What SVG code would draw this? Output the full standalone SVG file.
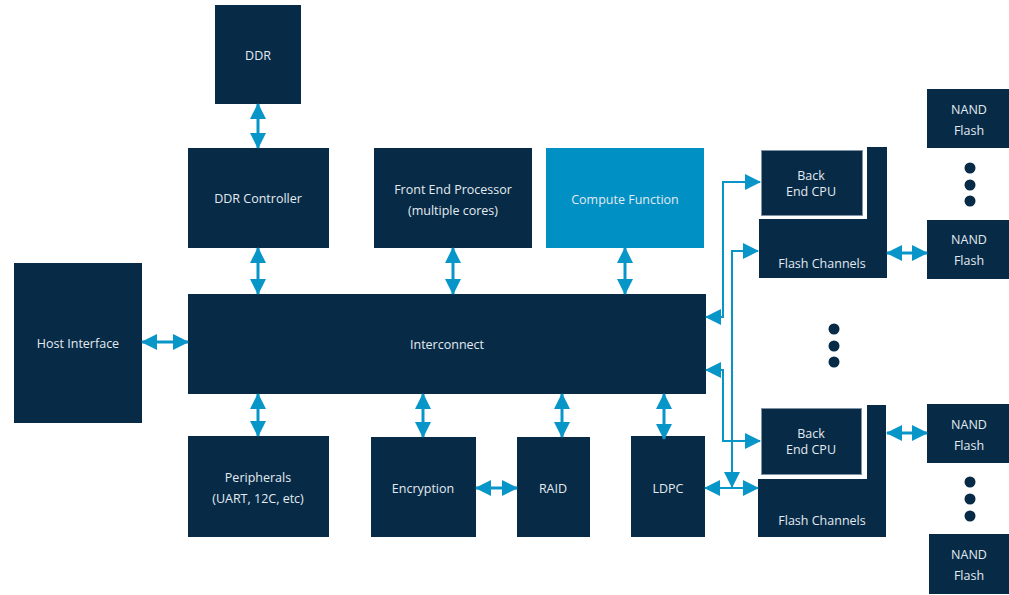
<svg xmlns="http://www.w3.org/2000/svg" width="1009" height="595" viewBox="0 0 1009 595">
  <style>
    .blk { fill: #072a47; }
    .cpu { fill: #072a47; stroke: #7f93a5; stroke-width: 1; }
    .hl { fill: #0090c4; }
    .lbl { font-family: "Open Sans", "Noto Sans", sans-serif; font-size: 12.5px; fill: #e3eaf0; text-anchor: middle; }
    .bus { stroke: #0895c8; stroke-width: 3; fill: none; marker-start: url(#tip); marker-end: url(#tip); }
    .wire { stroke: #0895c8; stroke-width: 2; fill: none; }
    .dot { fill: #072a47; }
  </style>
  <defs>
    <marker id="tip" viewBox="0 0 16 16" refX="15" refY="8" markerWidth="16" markerHeight="16" markerUnits="userSpaceOnUse" orient="auto-start-reverse">
      <path d="M0,0 L16,8 L0,16 z" fill="#0895c8"/>
    </marker>
  </defs>

  <rect width="1009" height="595" fill="#ffffff"/>

  <g id="ddr"><rect class="blk" x="215" y="5" width="86" height="99"/><text class="lbl" x="258" y="60">DDR</text></g>
  <g id="ddr-controller"><rect class="blk" x="188" y="148" width="141" height="100"/><text class="lbl" x="258" y="203">DDR Controller</text></g>
  <g id="front-end"><rect class="blk" x="374" y="148" width="158" height="100"/><text class="lbl" x="453" y="194">Front End Processor</text><text class="lbl" x="453" y="215">(multiple cores)</text></g>
  <g id="compute"><rect class="hl" x="546" y="148" width="158" height="100"/><text class="lbl" x="625" y="204">Compute Function</text></g>
  <g id="host"><rect class="blk" x="14" y="263" width="128" height="160"/><text class="lbl" x="78" y="348">Host Interface</text></g>
  <g id="interconnect"><rect class="blk" x="188" y="294" width="518" height="100"/><text class="lbl" x="447" y="349">Interconnect</text></g>
  <g id="peripherals"><rect class="blk" x="188" y="436" width="141" height="101"/><text class="lbl" x="258" y="482">Peripherals</text><text class="lbl" x="258" y="503">(UART, 12C, etc)</text></g>
  <g id="encryption"><rect class="blk" x="371" y="437" width="105" height="100"/><text class="lbl" x="423" y="493">Encryption</text></g>
  <g id="raid"><rect class="blk" x="517" y="437" width="73" height="100"/><text class="lbl" x="553" y="493">RAID</text></g>
  <g id="ldpc"><rect class="blk" x="631" y="436" width="74" height="101"/><text class="lbl" x="668" y="493">LDPC</text></g>

  <!-- upper back-end channel -->
  <g id="flash-channels-1"><path class="blk" d="M867,147 H887 V278 H759 V219 H867 Z"/><text class="lbl" x="822" y="268">Flash Channels</text></g>
  <g id="backend-cpu-1"><rect class="cpu" x="761.5" y="150.5" width="101" height="65"/><text class="lbl" x="811" y="180">Back</text><text class="lbl" x="811" y="196">End CPU</text></g>

  <!-- lower back-end channel -->
  <g id="flash-channels-2"><path class="blk" d="M867,405 H886 V537 H758 V479 H867 Z"/><text class="lbl" x="822" y="525">Flash Channels</text></g>
  <g id="backend-cpu-2"><rect class="cpu" x="761.5" y="408.5" width="100" height="66"/><text class="lbl" x="811" y="438">Back</text><text class="lbl" x="811" y="454">End CPU</text></g>

  <g id="nand-1"><rect class="blk" x="927" y="89" width="82" height="59"/><text class="lbl" x="969" y="114">NAND</text><text class="lbl" x="969" y="135">Flash</text></g>
  <g id="nand-2"><rect class="blk" x="927" y="220" width="82" height="59"/><text class="lbl" x="969" y="244">NAND</text><text class="lbl" x="969" y="265">Flash</text></g>
  <g id="nand-3"><rect class="blk" x="927" y="404" width="82" height="59"/><text class="lbl" x="969" y="429">NAND</text><text class="lbl" x="969" y="450">Flash</text></g>
  <g id="nand-4"><rect class="blk" x="929" y="534" width="80" height="60"/><text class="lbl" x="969" y="559">NAND</text><text class="lbl" x="969" y="580">Flash</text></g>

  <!-- ellipsis marks -->
  <g id="ellipsis">
    <circle class="dot" cx="970" cy="168" r="5.5"/><circle class="dot" cx="970" cy="185" r="5.5"/><circle class="dot" cx="970" cy="201" r="5.5"/>
    <circle class="dot" cx="834" cy="329" r="5.5"/><circle class="dot" cx="834" cy="346" r="5.5"/><circle class="dot" cx="834" cy="362" r="5.5"/>
    <circle class="dot" cx="970" cy="482" r="5.5"/><circle class="dot" cx="970" cy="499" r="5.5"/><circle class="dot" cx="970" cy="516" r="5.5"/>
  </g>

  <g id="connectors">
    <line class="bus" x1="258" y1="104" x2="258" y2="148"/>
    <line class="bus" x1="258" y1="248" x2="258" y2="294"/>
    <line class="bus" x1="453" y1="248" x2="453" y2="294"/>
    <line class="bus" x1="625" y1="248" x2="625" y2="294"/>
    <line class="bus" x1="142" y1="342" x2="188" y2="342"/>
    <line class="bus" x1="258" y1="394" x2="258" y2="436"/>
    <line class="bus" x1="423" y1="394" x2="423" y2="437"/>
    <line class="bus" x1="562" y1="394" x2="562" y2="437"/>
    <line class="bus" x1="664" y1="394" x2="664" y2="439"/>
    <line class="bus" x1="476" y1="488" x2="517" y2="488"/>
    <line class="bus" x1="887" y1="253" x2="927" y2="253"/>
    <line class="bus" x1="887" y1="433" x2="927" y2="433"/>

    <path class="wire" d="M706,317 H723 V182 H760" marker-start="url(#tip)" marker-end="url(#tip)"/>
    <path class="wire" d="M758,251 H732 V487" marker-start="url(#tip)" marker-end="url(#tip)"/>
    <path class="wire" d="M706,370 H723 V441 H760" marker-start="url(#tip)" marker-end="url(#tip)"/>
    <path class="wire" d="M705,488 H758" marker-start="url(#tip)" marker-end="url(#tip)"/>
  </g>
</svg>
